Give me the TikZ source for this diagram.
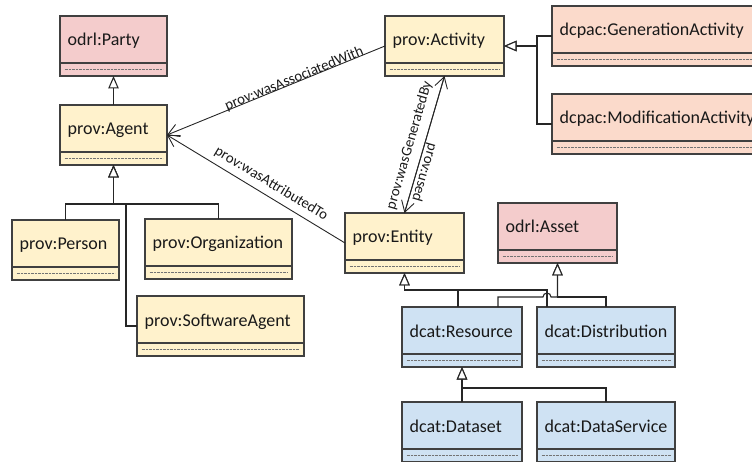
\documentclass[tikz,border=0pt]{standalone}
\usepackage{fontspec}
\setmainfont{Carlito}
\usetikzlibrary{arrows.meta,calc}

\definecolor{provfill}{HTML}{FFF2CC}
\definecolor{odrlfill}{HTML}{F4CCCC}
\definecolor{dcpacfill}{HTML}{FBDACB}
\definecolor{dcatfill}{HTML}{CFE2F3}
\definecolor{clsline}{HTML}{404040}

\tikzset{
  classbox/.style={draw=clsline, line width=1.1pt, rectangle, inner sep=0pt,
    outer sep=0pt, minimum height=60pt},
  classtitle/.style={inner sep=0pt, font=\fontsize{18}{20}\selectfont, text=black!90},
  classdiv/.style={draw=clsline, line width=1.3pt},
  classdots/.style={draw=black!55, line width=0.5pt, dash pattern=on 0.7pt off 0.7pt},
  genline/.style={draw=black!85, line width=1.1pt,
    -{Triangle[length=12.5pt,width=10.5pt,fill=white]}},
  navline/.style={draw=black!85, line width=0.9pt,
    -{Straight Barb[length=11pt,width=13pt]}},
  navlabel/.style={font=\fontsize{14.8}{16}\selectfont, sloped, inner sep=0pt, text=black!90},
}

% UML class: name, fill, left, top, right, title
\newcommand{\umlclass}[6]{%
  \pgfmathsetmacro{\clsw}{#5-#3}%
  \node[classbox, fill=#2, minimum width=\clsw pt, anchor=north west] (#1) at (#3,#4) {};
  \node[classtitle, anchor=base west] (#1-title) at ([xshift=7.5pt,yshift=-30pt]#1.north west) {#6};
  \draw[classdiv] ([yshift=-47pt]#1.north west) -- ([yshift=-47pt]#1.north east);
  \draw[classdots] ([xshift=4.5pt,yshift=-53.5pt]#1.north west) -- ([xshift=-4.5pt,yshift=-53.5pt]#1.north east);
}

\begin{document}
\begin{tikzpicture}[x=1pt,y=-1pt]
\useasboundingbox (0,0) rectangle (752,462);
\clip (0,0) rectangle (752,462);

% classes
\umlclass{party}{odrlfill}{60}{16}{167}{odrl:Party}
\umlclass{agent}{provfill}{60}{105}{167}{prov:Agent}
\umlclass{person}{provfill}{12}{220}{119}{prov:Person}
\umlclass{org}{provfill}{145}{219}{292}{prov:Organization}
\umlclass{swagent}{provfill}{137}{296}{304}{prov:SoftwareAgent}
\umlclass{act}{provfill}{385}{16}{504}{prov:Activity}
\umlclass{genact}{dcpacfill}{552}{6}{800}{dcpac:GenerationActivity}
\umlclass{modact}{dcpacfill}{552}{94}{800}{dcpac:ModificationActivity}
\umlclass{ent}{provfill}{345}{213}{464}{prov:Entity}
\umlclass{asset}{odrlfill}{498}{203}{617}{odrl:Asset}
\umlclass{res}{dcatfill}{402}{307}{522}{dcat:Resource}
\umlclass{dist}{dcatfill}{537}{307}{675}{dcat:Distribution}
\umlclass{dset}{dcatfill}{402}{402}{522}{dcat:Dataset}
\umlclass{dsvc}{dcatfill}{537}{402}{675}{dcat:DataService}

% bus points of the generalisation trees
\coordinate (agentbus) at (113.5,204);
\coordinate (swknee) at (126,204);
\coordinate (actbus) at (537,46);
\coordinate (entbus) at (404.5,290);
\coordinate (assetbus) at (557.5,297);
\coordinate (resbus) at (462,388);

% generalisations
\draw[genline] (agent.north) -- (party.south);
\draw[genline] (person.north) |- (agentbus) -- (agent.south);
\draw[genline] (org.north) |- (agentbus) -- (agent.south);
\draw[genline] (swagent.west) -| (swknee) -| (agent.south);
\draw[genline] (genact.west) -| (actbus) -- (act.east);
\draw[genline] (modact.west) -| (actbus) -- (act.east);
\draw[genline] ([xshift=-4pt]res.north) |- (entbus) -- (ent.south);
\draw[genline] ([xshift=10pt]dist.north west) |- (entbus) -- (ent.south);
\draw[genline] ([xshift=-24pt]res.north east) -- ++(0,-10) -- (543,297)
  arc[start angle=180, end angle=360, radius=4] -- (assetbus) -- (asset.south);
\draw[genline] (dist.north) |- (assetbus) -- (asset.south);
\draw[genline] (dset.north) -- (res.south);
\draw[genline] (dsvc.north) |- (resbus) -- (res.south);

% associations
\draw[navline] (act.west) -- node[navlabel, pos=0.41, above=-3pt] {prov:wasAssociatedWith} (agent.east);
\draw[navline] (ent.west) -- node[navlabel, pos=0.45, above=5.5pt] {prov:wasAttributedTo} (agent.east);
\draw[navline] (ent.north) -- node[navlabel, pos=0.465, above=7.5pt] {prov:wasGeneratedBy} (act.south);
\draw[navline] (act.south) -- node[navlabel, pos=0.69, above=1pt, allow upside down] {prov:used} (ent.north);
\end{tikzpicture}
\end{document}
